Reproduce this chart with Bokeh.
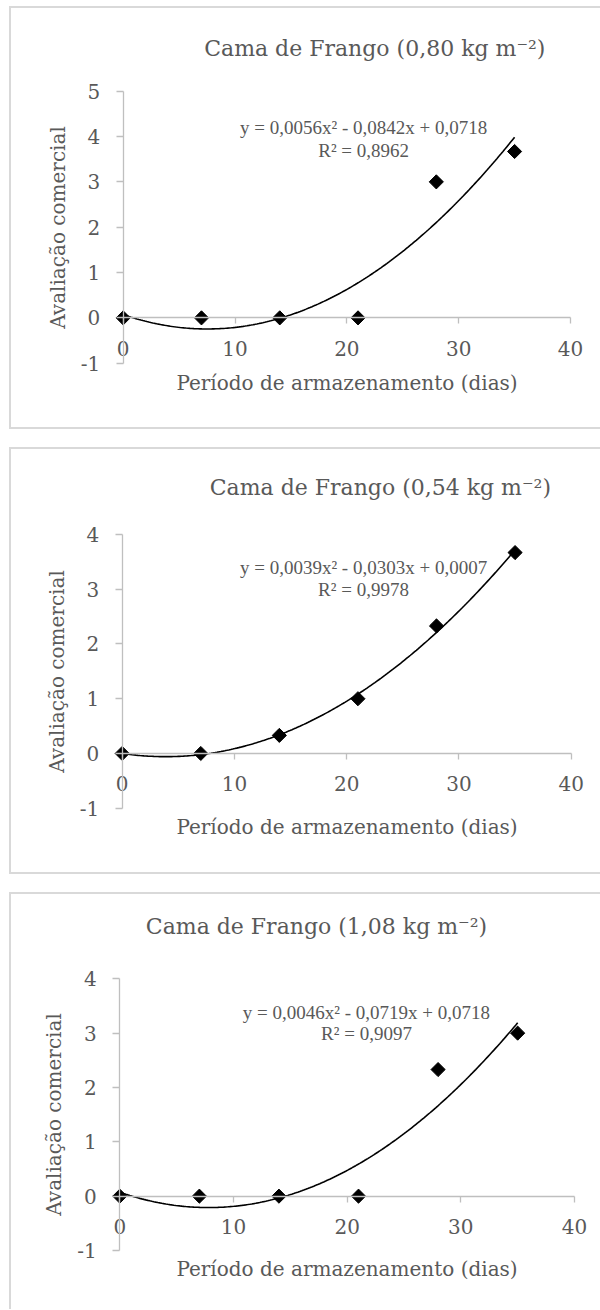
import numpy as np
from bokeh.plotting import figure
from bokeh.models import Range1d, LinearAxis, FixedTicker, Label, Column
from bokeh.embed import file_html
from bokeh.resources import INLINE

# ---------------- data ----------------
dias = [0, 7, 14, 21, 28, 35]
x_ticks = [0, 10, 20, 30, 40]

titulo_080 = "Cama de Frango (0,80 kg m⁻²)"
titulo_054 = "Cama de Frango (0,54 kg m⁻²)"
titulo_108 = "Cama de Frango (1,08 kg m⁻²)"

aval_080 = [0, 0, 0, 0, 3.0, 3.67]
aval_054 = [0, 0, 0.33, 1.0, 2.33, 3.67]
aval_108 = [0, 0, 0, 0, 2.33, 3.0]

coef_080 = [0.0056, -0.0842, 0.0718]
coef_054 = [0.0039, -0.0303, 0.0007]
coef_108 = [0.0046, -0.0719, 0.0718]

eq_080 = ["y = 0,0056x² - 0,0842x + 0,0718", "R² = 0,8962"]
eq_054 = ["y = 0,0039x² - 0,0303x + 0,0007", "R² = 0,9978"]
eq_108 = ["y = 0,0046x² - 0,0719x + 0,0718", "R² = 0,9097"]

y_ticks_080 = [-1, 0, 1, 2, 3, 4, 5]
y_ticks_054 = [-1, 0, 1, 2, 3, 4]
y_ticks_108 = [-1, 0, 1, 2, 3, 4]

x_label = "Período de armazenamento (dias)"
y_label = "Avaliação comercial"

# ---------------- style ----------------
TXT = "#595959"
AX = "#bfbfbf"
BOX = "#d9d9d9"
SERIF = "DejaVu Serif"
EQFONT = "Liberation Serif"


def pixel_range(lo_val, lo_px, hi_val, hi_px, size, flip=False):
    """Range so that lo_val/hi_val land on the given canvas pixels."""
    ppu = abs(hi_px - lo_px) / (hi_val - lo_val)
    if not flip:
        start = lo_val - lo_px / ppu
        end = hi_val + (size - hi_px) / ppu
    else:
        start = lo_val - (size - lo_px) / ppu
        end = hi_val + hi_px / ppu
    return Range1d(start, end)


def make_panel(xs, ys, coef, eq, title, yticks, cfg):
    W, H = cfg["w"], cfg["h"]
    ox, oy = cfg["ox"], cfg["oy"]
    xr = pixel_range(0, cfg["x0"] - ox, 40, cfg["x40"] - ox, W)
    yr = pixel_range(yticks[0], cfg["ylo"] - oy, yticks[-1], cfg["yhi"] - oy, H, flip=True)
    p = figure(width=W, height=H, x_range=xr, y_range=yr,
               output_backend="svg", toolbar_location=None,
               x_axis_location=None, y_axis_location=None,
               min_border=0)
    p.grid.visible = False
    p.outline_line_color = None
    p.background_fill_color = None
    p.border_fill_color = None
    p.styles = cfg["styles"]

    common = dict(axis_line_color=AX, axis_line_width=1.3,
                  major_tick_line_color=AX, major_tick_line_width=1.3,
                  major_tick_in=0, minor_tick_in=0, minor_tick_out=0,
                  major_label_text_font=SERIF, major_label_text_font_size="20px",
                  major_label_text_color=TXT,
                  axis_label_text_font=SERIF, axis_label_text_font_size="20px",
                  axis_label_text_color=TXT, axis_label_text_font_style="normal")

    yax = LinearAxis(ticker=FixedTicker(ticks=yticks), fixed_location=0,
                     bounds=(yticks[0], yticks[-1]),
                     major_label_overrides={t: str(t) for t in yticks},
                     axis_label=y_label, major_tick_out=7,
                     major_label_standoff=16, axis_label_standoff=cfg["yls"], **common)
    p.add_layout(yax, "left")
    xax = LinearAxis(ticker=FixedTicker(ticks=x_ticks), fixed_location=0,
                     bounds=(x_ticks[0], x_ticks[-1]),
                     axis_label=x_label, major_tick_out=6,
                     major_label_standoff=17, axis_label_standoff=cfg["xls"], **common)
    p.add_layout(xax, "below")

    xt = np.linspace(0, 35, 200)
    p.line(xt, np.polyval(coef, xt), line_color="black", line_width=1.6)
    p.scatter(xs, ys, marker="square", angle=np.pi / 4, size=10,
              fill_color="black", line_color="black")

    p.add_layout(Label(x=cfg["tx"], y=cfg["ty"], text=title, text_align="center",
                       text_baseline="middle", text_font=SERIF, text_font_size="22px",
                       text_color=TXT))
    p.add_layout(Label(x=cfg["ex"], y=cfg["ey1"], text=eq[0], text_align="center",
                       text_baseline="middle", text_font=EQFONT,
                       text_font_size="19px", text_color=TXT))
    p.add_layout(Label(x=cfg["ex"], y=cfg["ey2"], text=eq[1], text_align="center",
                       text_baseline="middle", text_font=EQFONT,
                       text_font_size="19px", text_color=TXT))
    return p


box3 = (f"inset 2px 0 0 0 {BOX}, inset 0 2px 0 0 {BOX}, inset 0 -2px 0 0 {BOX}")
box2 = (f"inset 2px 0 0 0 {BOX}, inset 0 2px 0 0 {BOX}")

cfg1 = dict(w=591, h=423, ox=9, oy=6, x0=122.7, x40=570.0, ylo=362.7, yhi=90.7,
            xls=12, yls=8,
            tx=22.5, ty=5.94, ex=21.5, ey1=4.19, ey2=3.70,
            styles={"box-shadow": box3})
cfg2 = dict(w=591, h=427, ox=9, oy=447, x0=121.7, x40=570.7, ylo=807.7, yhi=534.0,
            xls=20, yls=8,
            tx=23.0, ty=4.85, ex=21.5, ey1=3.39, ey2=3.0,
            styles={"box-shadow": box3})
cfg3 = dict(w=591, h=417, ox=9, oy=892, x0=119.3, x40=574.0, ylo=1250.0, yhi=978.3,
            xls=19, yls=8,
            tx=17.3, ty=4.97, ex=21.7, ey1=3.38, ey2=3.0,
            styles={"box-shadow": box2})

p1 = make_panel(dias, aval_080, coef_080, eq_080, titulo_080, y_ticks_080, cfg1)
p2 = make_panel(dias, aval_054, coef_054, eq_054, titulo_054, y_ticks_054, cfg2)
p3 = make_panel(dias, aval_108, coef_108, eq_108, titulo_108, y_ticks_108, cfg3)

layout = Column(children=[p1, p2, p3], spacing=18, margin=(6, 0, 0, 9))

with open("out.html", "w") as f:
    f.write(file_html(layout, INLINE))
